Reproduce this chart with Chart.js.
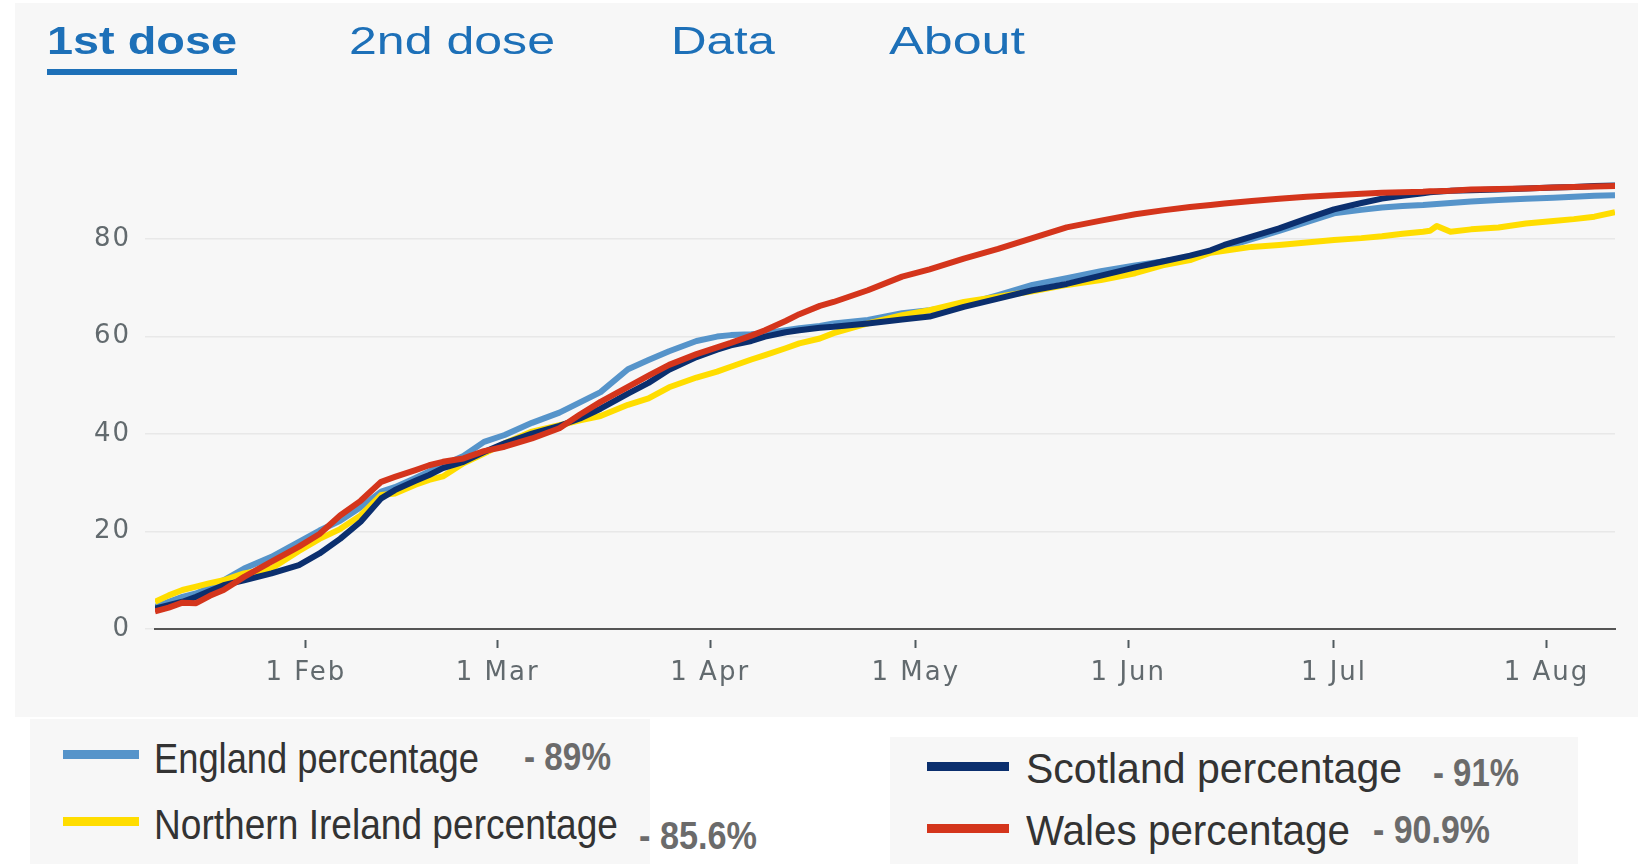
<!DOCTYPE html>
<html>
<head>
<meta charset="utf-8">
<script src="https://cdn.jsdelivr.net/npm/chart.js@4.4.1/dist/chart.umd.min.js"></script>
<style>
html,body{margin:0;padding:0;background:#fff;}
body{width:1643px;height:864px;position:relative;overflow:hidden;font-family:"Liberation Sans",Arial,sans-serif;}
#panel{position:absolute;left:15px;top:3px;width:1623px;height:714px;background:#f7f7f7;}
#chartBox{position:absolute;left:0;top:0;width:1643px;height:717px;}
.fit{position:absolute;white-space:nowrap;display:inline-block;transform-origin:0 0;line-height:1;}
.tab{font-size:38px;color:#1d70b8;}
.box{position:absolute;background:#f7f7f7;}
.sw{position:absolute;height:9px;}
.lg{font-size:43px;color:#333;}
.val{font-size:38px;color:#6b6b6b;font-weight:bold;}
#underline{position:absolute;left:47px;top:69px;width:190px;height:6px;background:#1d70b8;}
</style>
</head>
<body>
<div id="panel"></div>
<div id="chartBox"><canvas id="c"></canvas></div>
<div id="tabs"></div>
<div id="underline"></div>
<div class="box" style="left:30px;top:719px;width:620px;height:145px;"></div>
<div class="box" style="left:890px;top:737px;width:688px;height:127px;"></div>
<div id="legend"></div>
<script>
// ---- data (day of year 2021, Jan 1 = 0) ----
const days = [9, 11, 13, 15, 17, 19, 22, 26, 30, 33, 36, 39, 42, 44, 47, 49, 51, 54, 57, 60, 64, 68, 71, 74, 78, 81, 84, 88, 91, 93, 96, 98, 101, 103, 106, 108, 113, 118, 122, 127, 132, 137, 142, 147, 152, 156, 160, 163, 165, 169, 173, 177, 181, 185, 188, 191, 194, 195, 196, 198, 201, 205, 209, 213, 216, 219, 222];

const england = [4.5, 5.6, 6.6, 7.3, 8.5, 10, 12.4, 14.8, 17.9, 20.2, 22.2, 25, 28.2, 29.1, 31, 32.3, 33.6, 35.5, 38.4, 39.8, 42.3, 44.4, 46.5, 48.6, 53.3, 55.2, 57, 59.1, 60, 60.3, 60.5, 60.7, 61.3, 61.7, 62.2, 62.7, 63.4, 64.8, 65.4, 66.5, 68.5, 70.6, 72, 73.4, 74.6, 75.4, 76.3, 77.4, 78.3, 80, 81.7, 83.5, 85.3, 86, 86.5, 86.8, 87, 87.1, 87.2, 87.4, 87.7, 88, 88.3, 88.5, 88.7, 88.9, 89];

const northernIreland = [5.6, 6.9, 8, 8.7, 9.4, 10, 11.4, 12.4, 16, 18.5, 20.5, 23.3, 27.5, 27.8, 29.6, 30.6, 31.3, 34, 36, 38.1, 40.5, 41.8, 42.8, 43.7, 46, 47.3, 49.6, 51.6, 52.8, 53.8, 55.3, 56.2, 57.6, 58.6, 59.6, 60.7, 62.7, 64.4, 65.4, 67.1, 68.2, 69.3, 70.6, 71.6, 73, 74.6, 75.7, 77.2, 77.6, 78.4, 78.8, 79.3, 79.8, 80.2, 80.6, 81.1, 81.5, 81.7, 82.7, 81.5, 82, 82.4, 83.2, 83.7, 84.1, 84.6, 85.5];

const scotland = [4.2, 4.9, 5.6, 6.6, 7.8, 9, 10, 11.4, 13.1, 15.5, 18.5, 22, 26.8, 28.5, 30.4, 31.6, 33, 34.3, 36.3, 38.1, 40.1, 41.7, 43.2, 45.2, 48.3, 50.5, 53.2, 55.8, 57.3, 58.2, 59.1, 60, 60.9, 61.3, 61.8, 62, 62.7, 63.5, 64.1, 66.1, 67.8, 69.5, 70.8, 72.5, 74.2, 75.4, 76.6, 77.7, 78.8, 80.5, 82.2, 84.2, 86.1, 87.4, 88.3, 88.9, 89.4, 89.6, 89.7, 89.9, 90, 90.2, 90.4, 90.6, 90.7, 90.9, 91];

const wales = [3.6, 4.4, 5.4, 5.3, 6.8, 8, 10.7, 13.8, 16.9, 19.5, 23.3, 26.3, 30.2, 31.2, 32.6, 33.6, 34.3, 35, 36.5, 37.4, 39.1, 41.2, 44, 46.6, 49.7, 52, 54.2, 56.4, 57.8, 58.7, 60.2, 61.3, 63.2, 64.6, 66.3, 67.1, 69.5, 72.3, 73.8, 76, 78, 80.2, 82.4, 83.8, 85.1, 85.9, 86.6, 87, 87.3, 87.8, 88.3, 88.7, 89, 89.3, 89.5, 89.6, 89.7, 89.8, 89.8, 89.9, 90.2, 90.3, 90.4, 90.6, 90.7, 90.8, 90.9];

const seriesNames = ['England percentage', 'Northern Ireland percentage', 'Scotland percentage', 'Wales percentage'];
const latestLabels = ['- 89%', '- 85.6%', '- 91%', '- 90.9%'];
const monthTickDays = [31, 59, 90, 120, 151, 181, 212];
const monthTickLabels = ['1 Feb', '1 Mar', '1 Apr', '1 May', '1 Jun', '1 Jul', '1 Aug'];
const tabLabels = ['1st dose', '2nd dose', 'Data', 'About'];

// ---- styling / layout ----
const seriesValues = [england, northernIreland, scotland, wales];
const seriesColors = ['#5694ca', '#ffdd00', '#0b2f6e', '#d4351c'];
const seriesOrder = [3, 2, 1, 0];

const tabLayout = [
  {left: 47, top: 22, w: 190, bold: true},
  {left: 349, top: 22, w: 206},
  {left: 671, top: 22, w: 104},
  {left: 889, top: 22, w: 136}
];
const legendLayout = [
  {sx: 63, sw: 76, sy: 754, tx: 154, tw: 325, ty: 737, vx: 524, vw: 87, vy: 738},
  {sx: 63, sw: 76, sy: 821, tx: 154, tw: 464, ty: 803, vx: 639, vw: 118, vy: 817},
  {sx: 927, sw: 82, sy: 766, tx: 1026, tw: 376, ty: 747, vx: 1433, vw: 86, vy: 754},
  {sx: 927, sw: 82, sy: 828, tx: 1026, tw: 324, ty: 809, vx: 1373, vw: 117, vy: 811}
];

const toFit = [];
function addText(parent, cls, text, left, top, w, extra) {
  const s = document.createElement('span');
  s.className = 'fit ' + cls;
  s.textContent = text;
  s.style.left = left + 'px';
  s.style.top = top + 'px';
  if (extra) Object.assign(s.style, extra);
  parent.appendChild(s);
  toFit.push([s, w]);
}
const tabsEl = document.getElementById('tabs');
tabLabels.forEach((t, i) => {
  const L = tabLayout[i];
  addText(tabsEl, 'tab', t, L.left, L.top, L.w, L.bold ? {fontWeight: 'bold'} : null);
});
const legEl = document.getElementById('legend');
seriesNames.forEach((n, i) => {
  const L = legendLayout[i];
  const sw = document.createElement('div');
  sw.className = 'sw';
  sw.style.left = L.sx + 'px';
  sw.style.width = L.sw + 'px';
  sw.style.top = (L.sy - 4.5) + 'px';
  sw.style.background = seriesColors[i];
  legEl.appendChild(sw);
  addText(legEl, 'lg', n, L.tx, L.ty, L.tw);
  addText(legEl, 'val', latestLabels[i], L.vx, L.vy, L.vw);
});
function fitAll() {
  toFit.forEach(([el, w]) => {
    el.style.transform = 'none';
    const nat = el.getBoundingClientRect().width;
    if (nat > 0) el.style.transform = 'scaleX(' + (w / nat) + ')';
  });
}
fitAll();
if (document.fonts && document.fonts.ready) document.fonts.ready.then(fitAll);

const tickFont = {family: 'DejaVu Sans', size: 26};
new Chart(document.getElementById('c'), {
  type: 'line',
  data: {
    datasets: seriesNames.map((name, i) => ({
      label: name,
      data: days.map((d, k) => ({x: d, y: seriesValues[i][k]})),
      borderColor: seriesColors[i],
      backgroundColor: seriesColors[i],
      borderWidth: 6,
      pointRadius: 0,
      tension: 0,
      borderJoinStyle: 'round',
      borderCapStyle: 'butt',
      fill: false,
      order: seriesOrder[i]
    }))
  },
  options: {
    responsive: true,
    maintainAspectRatio: false,
    animation: false,
    layout: {padding: {top: 166, right: 28, left: 0, bottom: 0}},
    plugins: {legend: {display: false}, tooltip: {enabled: false}},
    scales: {
      x: {
        type: 'linear', min: 9, max: 222,
        afterBuildTicks: sc => { sc.ticks = monthTickDays.map(v => ({value: v})); },
        afterFit: sc => { sc.height = 88; },
        ticks: {
          autoSkip: false, maxRotation: 0, padding: 10, color: '#626a6e', font: tickFont,
          callback: v => monthTickLabels[monthTickDays.indexOf(v)]
        },
        grid: {drawOnChartArea: false, tickLength: 19, tickColor: '#505a5f', tickWidth: 2,
               tickBorderDash: [10, 10], tickBorderDashOffset: 10},
        border: {display: true, color: '#555555', width: 2}
      },
      y: {
        min: 0, max: 95,
        afterFit: sc => { sc.width = 155; },
        ticks: {stepSize: 20, includeBounds: false, padding: 14, color: '#626a6e', font: tickFont},
        grid: {color: '#e8e8e8', lineWidth: 1.5, tickLength: 10},
        border: {display: false}
      }
    }
  },
  plugins: [{id: 'spacing', beforeDraw(chart) { chart.ctx.letterSpacing = '2px'; }}]
});
</script>
</body>
</html>
